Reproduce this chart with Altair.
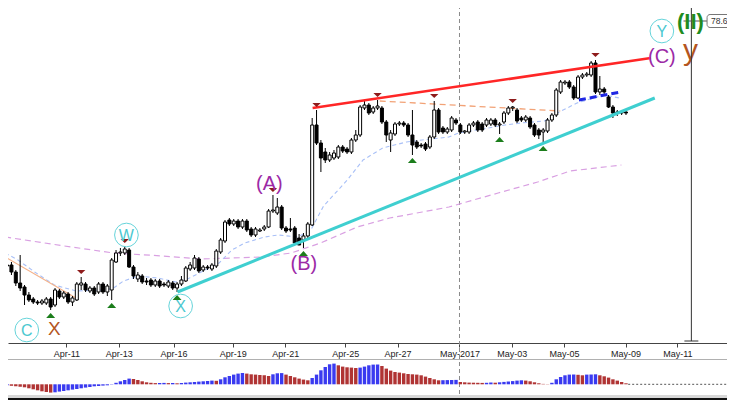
import json
import altair as alt
import pandas as pd

# ---------------- data ----------------
opens = [76.16, 76.17, 76.10, 75.99, 75.95, 75.87, 75.83, 75.80, 75.79, 75.79,
         75.83, 75.77, 75.91, 75.85, 75.88, 75.80, 75.82, 75.97, 75.98, 75.91,
         75.94, 75.90, 75.98, 75.90, 75.92, 76.20, 76.29, 76.29, 76.32, 76.15,
         76.03, 76.06, 76.01, 76.02, 75.97, 76.01, 75.98, 75.96, 75.99, 75.94,
         75.98, 76.01, 76.13, 76.14, 76.23, 76.12, 76.15, 76.13, 76.16, 76.30,
         76.41, 76.62, 76.58, 76.61, 76.55, 76.61, 76.53, 76.47, 76.51, 76.53,
         76.55, 76.71, 76.69, 76.75, 76.54, 76.53, 76.54, 76.44, 76.42, 76.46,
         76.57, 77.57, 77.39, 77.30, 77.22, 77.24, 77.25, 77.35, 77.33, 77.30,
         77.42, 77.47, 77.74, 77.77, 77.70, 77.74, 77.74, 77.60, 77.42, 77.48,
         77.58, 77.59, 77.57, 77.47, 77.40, 77.37, 77.38, 77.35, 77.45, 77.72,
         77.54, 77.50, 77.52, 77.62, 77.57, 77.50, 77.50, 77.57, 77.60, 77.58,
         77.57, 77.58, 77.62, 77.57, 77.60, 77.69, 77.74, 77.72, 77.64, 77.62,
         77.64, 77.57, 77.52, 77.50, 77.51, 77.62, 77.67, 77.90, 77.99, 78.00,
         77.95, 77.84, 78.05, 78.07, 78.07, 78.19, 77.90, 77.93, 77.85, 77.75,
         77.70, 77.69, 77.70]
closes = [76.17, 76.10, 75.99, 75.94, 75.87, 75.82, 75.80, 75.79, 75.81, 75.83,
          75.75, 75.92, 75.85, 75.89, 75.80, 75.84, 75.98, 75.99, 75.92, 75.94,
          75.88, 75.98, 75.90, 75.96, 76.22, 76.29, 76.30, 76.33, 76.15, 76.06,
          76.07, 76.00, 76.00, 75.97, 76.01, 75.96, 75.97, 76.00, 75.94, 75.98,
          76.02, 76.14, 76.17, 76.24, 76.11, 76.15, 76.14, 76.17, 76.31, 76.42,
          76.60, 76.58, 76.61, 76.55, 76.61, 76.52, 76.47, 76.53, 76.52, 76.55,
          76.71, 76.72, 76.75, 76.54, 76.51, 76.52, 76.39, 76.37, 76.46, 76.58,
          77.57, 77.39, 77.24, 77.22, 77.27, 77.29, 77.35, 77.31, 77.30, 77.42,
          77.47, 77.75, 77.77, 77.69, 77.74, 77.76, 77.60, 77.47, 77.49, 77.58,
          77.59, 77.57, 77.47, 77.37, 77.35, 77.36, 77.33, 77.45, 77.72, 77.50,
          77.50, 77.53, 77.64, 77.59, 77.50, 77.51, 77.57, 77.59, 77.52, 77.52,
          77.62, 77.62, 77.57, 77.58, 77.69, 77.74, 77.75, 77.61, 77.62, 77.65,
          77.55, 77.47, 77.47, 77.52, 77.62, 77.67, 77.92, 78.00, 78.00, 77.95,
          77.84, 78.05, 78.07, 78.08, 78.19, 77.90, 77.93, 77.90, 77.75, 77.69,
          77.69, 77.70, 77.69]
highs = [76.24, 76.20, 76.12, 76.27, 75.97, 75.90, 75.85, 75.82, 75.83, 75.85,
         75.85, 75.94, 75.93, 75.91, 75.90, 75.86, 76.00, 76.05, 76.00, 75.96,
         75.96, 76.00, 76.00, 75.98, 76.24, 76.32, 76.34, 76.36, 76.34, 76.17,
         76.10, 76.08, 76.04, 76.04, 76.03, 76.03, 76.00, 76.02, 76.01, 76.00,
         76.06, 76.16, 76.20, 76.27, 76.25, 76.17, 76.17, 76.19, 76.33, 76.44,
         76.62, 76.64, 76.63, 76.63, 76.63, 76.63, 76.55, 76.55, 76.54, 76.57,
         76.73, 76.87, 76.84, 76.77, 76.56, 76.64, 76.56, 76.48, 76.49, 76.60,
         77.64, 77.72, 77.42, 77.34, 77.30, 77.32, 77.37, 77.37, 77.35, 77.44,
         77.52, 77.77, 77.81, 77.79, 77.76, 77.82, 77.76, 77.62, 77.52, 77.60,
         77.61, 77.61, 77.59, 77.72, 77.42, 77.39, 77.40, 77.47, 77.81, 77.74,
         77.56, 77.55, 77.66, 77.64, 77.59, 77.52, 77.59, 77.61, 77.62, 77.60,
         77.64, 77.64, 77.64, 77.60, 77.71, 77.76, 77.76, 77.74, 77.66, 77.67,
         77.66, 77.59, 77.54, 77.54, 77.64, 77.69, 77.94, 78.02, 78.02, 78.02,
         77.97, 78.07, 78.09, 78.10, 78.21, 78.22, 78.06, 77.95, 77.87, 77.77,
         77.72, 77.72, 77.72]
lows = [76.10, 76.07, 75.96, 75.91, 75.77, 75.80, 75.78, 75.77, 75.77, 75.77,
        75.72, 75.75, 75.83, 75.83, 75.78, 75.76, 75.81, 75.92, 75.90, 75.89,
        75.86, 75.88, 75.88, 75.86, 75.82, 76.19, 76.26, 76.27, 76.14, 76.03,
        76.00, 75.98, 75.97, 75.95, 75.95, 75.94, 75.95, 75.94, 75.92, 75.90,
        75.96, 76.00, 76.11, 76.12, 76.09, 76.10, 76.12, 76.11, 76.14, 76.28,
        76.39, 76.56, 76.56, 76.53, 76.53, 76.50, 76.45, 76.45, 76.50, 76.51,
        76.54, 76.69, 76.67, 76.52, 76.49, 76.50, 76.37, 76.37, 76.34, 76.44,
        76.56, 77.37, 77.10, 77.19, 77.20, 77.22, 77.23, 77.29, 77.28, 77.28,
        77.40, 77.45, 77.72, 77.67, 77.68, 77.72, 77.58, 77.40, 77.30, 77.46,
        77.56, 77.55, 77.45, 77.27, 77.33, 77.34, 77.31, 77.33, 77.43, 77.48,
        77.48, 77.48, 77.50, 77.57, 77.48, 77.48, 77.48, 77.55, 77.50, 77.50,
        77.55, 77.56, 77.55, 77.48, 77.58, 77.67, 77.71, 77.59, 77.60, 77.60,
        77.53, 77.45, 77.43, 77.39, 77.49, 77.60, 77.65, 77.88, 77.97, 77.93,
        77.82, 77.83, 78.03, 78.05, 78.05, 77.88, 77.87, 77.86, 77.74, 77.64,
        77.66, 77.67, 77.67]

# oscillator histogram (lower panel)
osma = [-0.010, -0.015, -0.020, -0.025, -0.030, -0.040, -0.050, -0.060, -0.070, -0.077,
        -0.083, -0.080, -0.073, -0.067, -0.060, -0.053, -0.047, -0.040, -0.033, -0.027,
        -0.020, -0.017, -0.013, -0.010, -0.003, 0.015, 0.030, 0.043, 0.057, 0.053,
        0.043, 0.030, 0.020, 0.015, 0.012, 0.013, 0.014, 0.012, 0.013, 0.010,
        0.013, 0.017, 0.020, 0.023, 0.027, 0.030, 0.033, 0.037, 0.035, 0.050,
        0.070, 0.083, 0.097, 0.107, 0.113, 0.107, 0.100, 0.097, 0.093, 0.090,
        0.083, 0.100, 0.110, 0.112, 0.097, 0.083, 0.070, 0.057, 0.047, 0.040,
        0.063, 0.097, 0.140, 0.173, 0.200, 0.207, 0.190, 0.177, 0.170, 0.167,
        0.163, 0.167, 0.177, 0.190, 0.197, 0.198, 0.183, 0.157, 0.137, 0.123,
        0.117, 0.110, 0.103, 0.100, 0.097, 0.090, 0.077, 0.063, 0.050, 0.040,
        0.041, 0.042, 0.043, 0.044, 0.023, 0.020, 0.017, 0.016, 0.015, 0.014,
        0.015, 0.018, 0.016, 0.020, 0.024, 0.028, 0.032, 0.037, 0.040, 0.037,
        0.030, 0.020, 0.010, 0.004, 0.002, 0.015, 0.050, 0.073, 0.090, 0.097,
        0.098, 0.095, 0.090, 0.097, 0.098, 0.100, 0.090, 0.080, 0.067, 0.050,
        0.037, 0.023, 0.010]

tick_pos = [0, 13.6, 25.6, 38.2, 51.8, 63.8, 77.6, 89.6, 103.8, 115.8, 127.8, 141.9, 153.8, 165.6]
tick_labels = ["Apr-07", "Apr-11", "Apr-13", "Apr-16", "Apr-19", "Apr-21", "Apr-25",
               "Apr-27", "May-2017", "May-03", "May-05", "May-09", "May-11", "May-13"]

ma_fast_idx = [-0.45, 2.49, 6.33, 10.86, 15.84, 22.17, 24.43, 26.70, 30.09, 34.62, 38.69,
               41.40, 44.12, 48.64, 51.58, 54.52, 59.05, 62.22, 66.74, 69.68, 72.62, 78.05,
               81.67, 86.20, 91.63, 95.25, 101.36, 103.62, 110.41, 114.25, 117.87, 123.30,
               126.70, 130.77, 136.88, 140.50]
ma_fast_val = [76.29, 76.22, 76.10, 75.97, 75.91, 75.92, 75.94, 76.01, 76.06, 76.04, 76.00,
               76.03, 76.09, 76.19, 76.32, 76.39, 76.45, 76.47, 76.45, 76.52, 76.76, 77.02,
               77.22, 77.34, 77.40, 77.42, 77.45, 77.49, 77.54, 77.57, 77.59, 77.61,
               77.70, 77.79, 77.87, 77.84]
ma_slow_idx = [-0.45, 13.12, 24.43, 35.75, 44.80, 51.58, 58.37, 65.16, 71.95, 80.32, 87.78,
               95.25, 101.36, 112.67, 121.72, 129.19, 140.95]
ma_slow_val = [76.45, 76.36, 76.29, 76.26, 76.23, 76.24, 76.25, 76.29, 76.39, 76.55, 76.64,
               76.70, 76.75, 76.89, 77.00, 77.11, 77.17]

swing_high_idx = [17, 27, 61, 71, 85, 98, 116, 135]
swing_low_idx = [10, 24, 39, 68, 93, 113, 123]

# trend lines: (idx, price) end points
red_line = [(70.1, 77.74), (147.7, 78.24)]
cyan_line = [(39.1, 75.90), (148.6, 77.84)]
blue_dash = [(131.2, 77.82), (140.7, 77.90)]
orange_dash = [(85.5, 77.81), (126.9, 77.71)]
orange_left = [(-0.45, 76.25), (15.8, 75.84)]

circle_labels = ["C", "W", "X", "Y"]
circle_idx = [4.52, 27.38, 39.82, 150.23]
circle_price = [75.52, 76.47, 75.76, 78.51]

wave_labels = ["(A)", "(B)", "(C)"]
wave_idx = [60.18, 68.10, 150.23]
wave_price = [76.985, 76.18, 78.25]

month_line_idx = 103.8
vline_idx = 157.0
level_price = 78.61
level_text = "78.61"

# ---------------- layout constants ----------------
W, H = 719, 392
X_DOMAIN = [1.3575, 164.027]
PRICE_DOMAIN = [75.39, 78.82]
PRICE_RANGE = [335, -8]
OSC_DOMAIN = [-0.2, 0.25]
OSC_RANGE = [396.3, 351.3]
FONT = "Liberation Sans"

xs = alt.Scale(domain=X_DOMAIN, nice=False, zero=False)
ps = alt.Scale(domain=PRICE_DOMAIN, range=PRICE_RANGE, nice=False, zero=False)
os_ = alt.Scale(domain=OSC_DOMAIN, range=OSC_RANGE, nice=False, zero=False)

label_expr = f"{json.dumps(tick_labels)}[indexof({json.dumps(tick_pos)}, datum.value)]"
x_axis = alt.Axis(values=tick_pos, labelExpr=label_expr, offset=-(H - 335), orient="bottom",
                  tickSize=4, tickColor="#444", domainColor="#444", domainWidth=1,
                  labelFont=FONT, labelFontSize=9, labelColor="#222", labelPadding=2,
                  labelFlush=False, labelOverlap=False, labelBound=False, grid=False, title=None)


def X(field="idx"):
    return alt.X(f"{field}:Q", scale=xs, axis=x_axis)


def P(field):
    return alt.Y(f"{field}:Q", scale=ps, axis=None)


candles = pd.DataFrame({
    "idx": list(range(len(opens))),
    "open": opens, "close": closes, "high": highs, "low": lows,
})

osc = pd.DataFrame({"idx": list(range(len(osma))), "v": osma})
osc["rising"] = osc["v"].diff().fillna(0) >= 0

layers = []

# May-2017 separator (dashed vertical)
layers.append(alt.Chart(pd.DataFrame({"idx": [month_line_idx]})).mark_rule(
    color="#8a8a8a", strokeDash=[4, 3], strokeWidth=1).encode(
    x=X(), y=alt.value(-10), y2=alt.value(H)))

# panel separators
layers.append(alt.Chart(pd.DataFrame({"a": [0]})).mark_rule(color="#b0b0b0", strokeWidth=1).encode(
    x=alt.value(0), x2=alt.value(W), y=alt.value(351.5)))
layers.append(alt.Chart(pd.DataFrame({"a": [0]})).mark_rule(color="#d8d8d8", strokeWidth=3).encode(
    x=alt.value(0), x2=alt.value(W), y=alt.value(388.5)))
layers.append(alt.Chart(pd.DataFrame({"a": [0]})).mark_rule(color="#111", strokeWidth=2).encode(
    x=alt.value(0), x2=alt.value(W), y=alt.value(391)))

# moving averages
layers.append(alt.Chart(pd.DataFrame({"idx": ma_slow_idx, "p": ma_slow_val})).mark_line(
    color="#d9a0e2", strokeDash=[6, 4], strokeWidth=1.2, clip=True).encode(x=X(), y=P("p")))
layers.append(alt.Chart(pd.DataFrame({"idx": ma_fast_idx, "p": ma_fast_val})).mark_line(
    color="#a9c0f7", strokeDash=[4, 3], strokeWidth=1.1, clip=True).encode(x=X(), y=P("p")))


def seg(points, **kw):
    df = pd.DataFrame({"idx": [a for a, _ in points], "p": [b for _, b in points]})
    return alt.Chart(df).mark_line(clip=True, **kw).encode(x=X(), y=P("p"))


layers.append(seg(orange_left, color="#f4b28a", strokeWidth=1.2))
layers.append(seg(orange_dash, color="#f2a276", strokeWidth=1.3, strokeDash=[6, 4]))

# candles
layers.append(alt.Chart(candles).mark_rule(color="#000", strokeWidth=1, clip=True).encode(
    x=X(), y=P("low"), y2="high:Q"))
layers.append(alt.Chart(candles).mark_bar(size=3, stroke="#000", strokeWidth=1, clip=True).encode(
    x=X(), y=P("open"), y2="close:Q",
    fill=alt.condition("datum.close >= datum.open", alt.value("#ffffff"), alt.value("#000000"))))

# trend lines
layers.append(seg(cyan_line, color="#3fcfd0", strokeWidth=3))
layers.append(seg(red_line, color="#ff2626", strokeWidth=2.5))
layers.append(seg(blue_dash, color="#1f27e3", strokeWidth=3, strokeDash=[7, 4]))

# swing markers
hi = candles.iloc[swing_high_idx][["idx", "high"]]
lo = candles.iloc[swing_low_idx][["idx", "low"]]
layers.append(alt.Chart(hi).mark_point(shape="M-1,-0.5L1,-0.5L0,0.5Z", size=70, filled=True,
                                       color="#8e1b1b", opacity=1, yOffset=-5).encode(x=X(), y=P("high")))
layers.append(alt.Chart(lo).mark_point(shape="M-1,0.55L1,0.55L0,-0.55Z", size=80, filled=True,
                                       color="#1b7d1b", opacity=1, yOffset=5.5).encode(x=X(), y=P("low")))

# circled wave letters
circ = pd.DataFrame({"idx": circle_idx, "p": circle_price, "t": circle_labels})
layers.append(alt.Chart(circ).mark_point(shape="circle", size=560, filled=False, color="#66d4da",
                                         strokeWidth=1, opacity=1).encode(x=X(), y=P("p")))
layers.append(alt.Chart(circ).mark_text(font=FONT, fontSize=16, color="#4cc8d0", align="center",
                                        baseline="middle", dy=1).encode(x=X(), y=P("p"), text="t:N"))

# purple wave labels
wav = pd.DataFrame({"idx": wave_idx, "p": wave_price, "t": wave_labels})
layers.append(alt.Chart(wav).mark_text(font=FONT, fontSize=20, color="#9c2aa6", align="center",
                                       baseline="middle").encode(x=X(), y=P("p"), text="t:N"))

# brown / green labels
layers.append(alt.Chart(pd.DataFrame({"idx": [10.86], "p": [75.53], "t": ["X"]})).mark_text(
    font=FONT, fontSize=19, color="#b4561e", align="center", baseline="middle").encode(
    x=X(), y=P("p"), text="t:N"))
layers.append(alt.Chart(pd.DataFrame({"idx": [156.79], "p": [78.22], "t": ["y"]})).mark_text(
    font=FONT, fontSize=30, color="#b4561e", align="center", baseline="alphabetic").encode(
    x=X(), y=P("p"), text="t:N"))

# time line tool with level
layers.append(alt.Chart(pd.DataFrame({"idx": [vline_idx], "p1": [78.95], "p2": [75.41]})).mark_rule(
    color="#333", strokeWidth=1).encode(x=X(), y=P("p1"), y2="p2:Q"))
layers.append(alt.Chart(pd.DataFrame({"idx": [155.4], "idx2": [158.6], "p": [75.41]})).mark_rule(
    color="#333", strokeWidth=1).encode(x=X(), x2="idx2:Q", y=P("p")))
layers.append(alt.Chart(pd.DataFrame({"idx": [155.2], "idx2": [160.6], "p": [level_price]})).mark_rule(
    color="#555", strokeWidth=1).encode(x=X(), x2="idx2:Q", y=P("p")))
layers.append(alt.Chart(pd.DataFrame({"idx": [160.6], "idx2": [168.5],
                                      "p1": [level_price - 0.065], "p2": [level_price + 0.065]})).mark_rect(
    fill="white", stroke="#777", strokeWidth=1, cornerRadius=3).encode(
    x=X(), x2="idx2:Q", y=P("p1"), y2="p2:Q"))
layers.append(alt.Chart(pd.DataFrame({"idx": [161.5], "p": [level_price], "t": [level_text]})).mark_text(
    font=FONT, fontSize=8.5, color="#333", align="left", baseline="middle").encode(
    x=X(), y=P("p"), text="t:N"))
layers.append(alt.Chart(pd.DataFrame({"idx": [156.79], "p": [78.60], "t": ["(II)"]})).mark_text(
    font=FONT, fontSize=22, color="#1f8c1f", align="center", baseline="middle", fontWeight="bold").encode(
    x=X(), y=P("p"), text="t:N"))

# oscillator panel
layers.append(alt.Chart(osc).mark_bar(size=3.4, clip=True).encode(
    x=X(), y=alt.Y("v:Q", scale=os_, axis=None),
    color=alt.condition("datum.rising", alt.value("#3a3af0"), alt.value("#b03434"))))
layers.append(alt.Chart(pd.DataFrame({"idx": [142.5], "idx2": [170], "v": [0]})).mark_rule(
    color="#555", strokeDash=[2, 2], strokeWidth=1, clip=True).encode(
    x=X(), x2="idx2:Q", y=alt.Y("v:Q", scale=os_, axis=None)))

chart = alt.layer(*layers).resolve_scale(y="independent").properties(
    width=W, height=H, autosize=alt.AutoSizeParams(type="none"), padding=0,
    background="white").configure_view(strokeWidth=0)

chart.save("out.html", embed_options={"renderer": "svg", "actions": False})
